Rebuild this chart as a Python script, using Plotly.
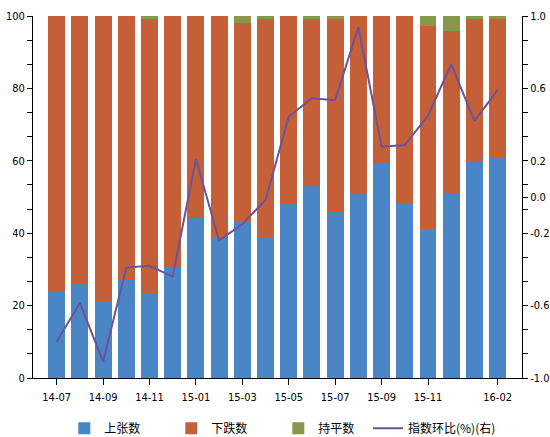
import plotly.graph_objects as go

months = ["14-07", "14-08", "14-09", "14-10", "14-11", "14-12",
          "15-01", "15-02", "15-03", "15-04", "15-05", "15-06",
          "15-07", "15-08", "15-09", "15-10", "15-11", "15-12",
          "16-01", "16-02"]
up = [24.0, 26.2, 21.3, 27.4, 23.4, 30.3, 44.1, 39.0, 43.4, 39.0,
      48.3, 53.3, 46.1, 51.2, 59.1, 48.3, 41.2, 51.2, 59.9, 61.1]
flat = [0, 0, 0, 0, 0.7, 0, 0, 0, 2.0, 0.7,
        0, 0.7, 0.7, 0, 0, 0, 2.8, 4.1, 0.7, 0.7]
down = [round(100 - u - f, 1) for u, f in zip(up, flat)]
idx = [-0.80, -0.585, -0.91, -0.39, -0.38, -0.44, 0.21, -0.24, -0.15, -0.016,
       0.445, 0.546, 0.535, 0.939, 0.278, 0.287, 0.449, 0.734, 0.421, 0.59]
xticks = ["14-07", "14-09", "14-11", "15-01", "15-03", "15-05", "15-07",
          "15-09", "15-11", "16-02"]
left_ticks = [0, 20, 40, 60, 80, 100]
right_ticks = [1.0, 0.6, 0.2, 0.0, -0.2, -0.6, -1.0]
right_text = ["1.0", "0.6", "0.2", "0.0", "-0.2", "-0.6", "-1.0"]

FONT = "DejaVu Sans Condensed, Liberation Sans Narrow, Noto Sans CJK SC, sans-serif"
LEGFONT = dict(family="Noto Sans CJK SC", size=12, color="black")

fig = go.Figure()
fig.add_bar(x=months, y=up, name="上张数", marker=dict(color="#4A86C6", line=dict(width=0)))
fig.add_bar(x=months, y=down, name="下跌数", marker=dict(color="#C55F38", line=dict(width=0)))
fig.add_bar(x=months, y=flat, name="持平数", marker=dict(color="#86994A", line=dict(width=0)))
fig.add_scatter(x=months, y=idx, name="指数环比(%)(右)", mode="lines", yaxis="y2",
                legend="legend2", line=dict(color="#6B5398", width=2))

fig.update_layout(
    width=550, height=437,
    margin=dict(l=33, r=28, t=16, b=59, autoexpand=False),
    barmode="stack", bargap=0.27,
    plot_bgcolor="white", paper_bgcolor="white",
    font=dict(family=FONT, size=11, color="black"),
    showlegend=True,
    legend=dict(orientation="h", x=0.064, y=0.02, xref="paper", yref="container",
                xanchor="left", yanchor="middle",
                entrywidth=62, entrywidthmode="pixels",
                font=LEGFONT, traceorder="normal", bgcolor="rgba(0,0,0,0)"),
    legend2=dict(orientation="h", x=0.685, y=0.02, xref="paper", yref="container",
                 xanchor="left", yanchor="middle",
                 font=LEGFONT, bgcolor="rgba(0,0,0,0)"),
    xaxis=dict(type="category", range=[-1.02, 20.05], tickmode="array", tickvals=xticks,
               ticktext=xticks, ticks="outside", ticklen=6, tickcolor="black",
               showline=True, linecolor="black", linewidth=1, showgrid=False,
               automargin=False, tickfont=dict(size=11), ticklabelstandoff=3),
    yaxis=dict(range=[0, 100], tickmode="array", tickvals=left_ticks, ticks="outside",
               ticklen=5, tickcolor="black", showline=True, linecolor="black",
               linewidth=1, showgrid=False, zeroline=False, automargin=False,
               minor=dict(tick0=0, dtick=100/15, ticks="outside", ticklen=5, tickcolor="black"),
               tickfont=dict(size=11)),
    yaxis2=dict(range=[-1, 1], overlaying="y", side="right", tickmode="array",
                tickvals=right_ticks, ticktext=right_text, ticks="outside", ticklen=5,
                tickcolor="black", showline=True, linecolor="black", linewidth=1,
                showgrid=False, zeroline=False, automargin=False,
                minor=dict(tick0=-1, dtick=2/15, ticks="outside", ticklen=5, tickcolor="black"),
                tickfont=dict(size=11)),
)

fig.write_html("out.html")
